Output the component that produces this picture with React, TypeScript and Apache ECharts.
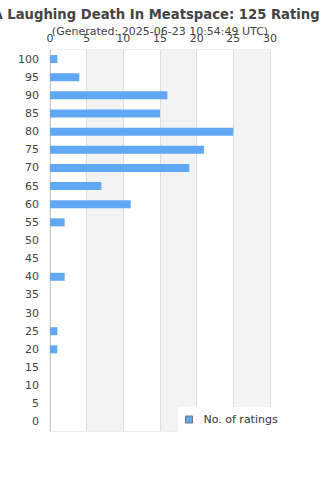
import React, { useEffect, useRef } from "react";
import * as echarts from "echarts";

const categories = ["0","5","10","15","20","25","30","35","40","45","50","55","60","65","70","75","80","85","90","95","100"];
const ratings = [0,0,0,0,1,1,0,0,2,0,0,2,11,7,19,21,25,15,16,4,1];
const xTicks = [0, 5, 10, 15, 20, 25, 30];

export default function App() {
  const ref = useRef<HTMLDivElement>(null);
  useEffect(() => {
    const chart = echarts.init(ref.current!, undefined, { renderer: "svg" });
    chart.setOption({
      animation: false,
      title: {
        text: "A Laughing Death In Meatspace: 125 Ratings",
        subtext: "(Generated: 2025-06-23 10:54:49 UTC)",
        left: "center",
        top: 3,
        itemGap: 5,
        textStyle: { fontSize: 13.2, fontWeight: "bold", color: "#444", fontFamily: "DejaVu Sans" },
        subtextStyle: { fontSize: 11, color: "#444", fontFamily: "DejaVu Sans" },
      },
      grid: { left: 50, right: 50, top: 50, bottom: 49, show: true, borderColor: "#ddd", borderWidth: 1, backgroundColor: "transparent" },
      legend: {
        data: ["No. of ratings"],
        left: 178,
        bottom: 48,
        backgroundColor: "#fff",
        padding: [7, 12, 7, 7],
        itemWidth: 7,
        itemHeight: 7,
        itemGap: 0,
        textStyle: { fontSize: 11, color: "#333", fontFamily: "DejaVu Sans", padding: [0, 0, 0, 6] },
        icon: "rect",
        itemStyle: { borderColor: "#777", borderWidth: 1 },
      },
      xAxis: {
        type: "value",
        position: "top",
        min: 0,
        max: 30,
        interval: 5,
        axisLine: { show: false },
        axisTick: { show: false },
        axisLabel: { fontSize: 11, color: "#444", margin: 6, fontFamily: "DejaVu Sans", formatter: (v: number) => (xTicks.includes(v) ? String(v) : "") },
        splitLine: { show: true, lineStyle: { color: "#ddd" } },
        splitArea: { show: true, areaStyle: { color: ["#fff", "#f3f3f3"] } },
      },
      yAxis: {
        type: "category",
        data: categories,
        axisLine: { show: true, lineStyle: { color: "#ccc" } },
        axisTick: { show: false },
        axisLabel: { fontSize: 11, color: "#444", margin: 11, fontFamily: "DejaVu Sans", interval: 0 },
      },
      series: [
        {
          name: "No. of ratings",
          type: "bar",
          data: ratings,
          barWidth: 8,
          itemStyle: { color: "#60a8f3" },
        },
      ],
    });
    return () => chart.dispose();
  }, []);
  return <div ref={ref} style={{ width: 320, height: 480, position: "absolute", left: 0, top: 0 }} />;
}
